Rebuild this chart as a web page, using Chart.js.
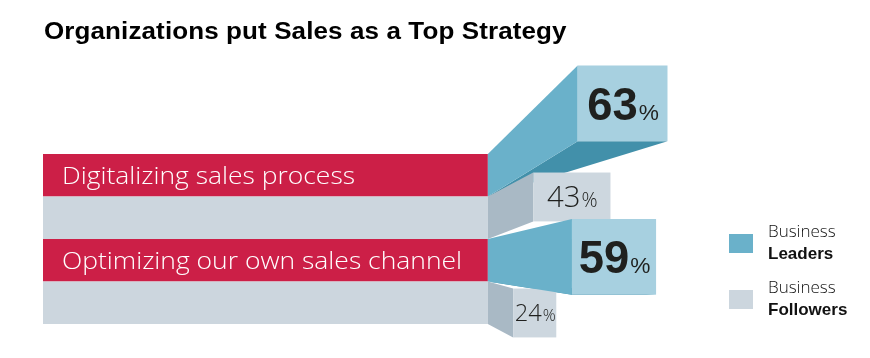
<!DOCTYPE html>
<html>
<head>
<meta charset="utf-8">
<script src="https://cdn.jsdelivr.net/npm/chart.js@4.4.1/dist/chart.umd.min.js"></script>
<style>
  html, body { margin: 0; padding: 0; background: #fff; }
  #wrap { position: relative; width: 870px; height: 358px; overflow: hidden; }
  #title {
    position: absolute; left: 44px; top: 20px; margin: 0;
    font: bold 23px/23px "Liberation Sans", Arial, sans-serif; color: #000;
    letter-spacing: 0.1px; transform: scaleX(1.13); transform-origin: 0 0; white-space: nowrap;
  }
  #legend { position: absolute; left: 729px; top: 220px; }
  .item { position: relative; height: 56px; }
  .swatch { position: absolute; left: 0; top: 14px; width: 24px; height: 19px; }
  .txt { position: absolute; left: 39px; top: 0; font-size: 17px; line-height: 22px; color: #111; white-space: nowrap; }
  .txt .lt { font-family: "Open Sans", "Liberation Sans", sans-serif; font-weight: 300; }
  .txt b { font-family: "Liberation Sans", Arial, sans-serif; font-weight: bold; }
  canvas { position: absolute; left: 0; top: 0; }
</style>
</head>
<body>
<div id="wrap">
  <canvas id="chart" width="870" height="358"></canvas>
  <h1 id="title">Organizations put Sales as a Top Strategy</h1>
  <div id="legend"></div>
</div>
<script>
// data
const categories = ['Digitalizing sales process', 'Optimizing our own sales channel'];
const leaders = [63, 59];
const followers = [43, 24];
const seriesFirst = ['Business', 'Business'];
const seriesSecond = ['Leaders', 'Followers'];

const LIGHT = '"Open Sans", "Liberation Sans", sans-serif';
const BOLD = '"Liberation Sans", Arial, sans-serif';

// how each series is extruded out of its band (bars seen in perspective)
const SHAPE = [
  { vanish: 0.65, lift: 1.806, grow: 1.78, front: 0.5,
    band: '#cc1f47', face: '#a7d0e0', side: '#6ab1ca', under: '#4290aa', legend: '#6ab1ca',
    numFont: 'bold', numFamily: BOLD, pct: 0.5, pctFont: 'normal', pctFamily: BOLD },
  { vanish: 0.71, lift: 1.365, grow: 1.15, front: 0.37,
    band: '#ccd6de', face: '#cdd7df', side: '#a9b9c5', under: null, legend: '#ccd6de',
    numFont: '300', numFamily: LIGHT, pct: 0.68, pctFont: '300', pctFamily: LIGHT }
];

function box(chart, di, i) {
  const bar = chart.getDatasetMeta(di).data[i];
  const { x, y, base, height } = bar.getProps(['x', 'y', 'base', 'height'], true);
  const s = SHAPE[di];
  const a = chart.chartArea;
  const vy = a.top + s.vanish * (a.bottom - a.top);
  const cy = vy + s.lift * (y - vy);
  const h = height * s.grow;
  return {
    base, top: y - height / 2, bottom: y + height / 2,
    fl: base + (x - base) * s.front, fr: x, ft: cy - h / 2, fb: cy + h / 2
  };
}

function poly(ctx, pts, color) {
  ctx.beginPath();
  ctx.moveTo(pts[0][0], pts[0][1]);
  for (let k = 1; k < pts.length; k++) ctx.lineTo(pts[k][0], pts[k][1]);
  ctx.closePath();
  ctx.fillStyle = color;
  ctx.fill();
}

const perspective = {
  id: 'perspective',
  beforeDatasetsDraw(chart) {
    const ctx = chart.ctx;
    const left = chart.chartArea.left;
    ctx.save();
    chart.data.datasets.forEach((ds, di) => {
      chart.getDatasetMeta(di).data.forEach((bar, i) => {
        const { y, base, height } = bar.getProps(['y', 'base', 'height'], true);
        ctx.fillStyle = SHAPE[di].band;
        ctx.fillRect(left, y - height / 2, base - left, height);
        if (di === 0) {
          ctx.save();
          ctx.fillStyle = '#fff';
          ctx.font = '300 24.5px ' + LIGHT;
          ctx.textBaseline = 'alphabetic';
          ctx.translate(left + 19, y + 8.6);
          ctx.scale(1.08, 1);
          ctx.fillText(chart.data.labels[i], 0, 0);
          ctx.restore();
        }
      });
    });
    ctx.restore();
  },
  afterDatasetsDraw(chart) {
    const ctx = chart.ctx;
    const n = chart.data.labels.length;
    ctx.save();
    // underside of the front series first, it sits behind everything
    chart.data.datasets.forEach((ds, di) => {
      if (!SHAPE[di].under) return;
      for (let i = 0; i < n; i++) {
        const b = box(chart, di, i);
        poly(ctx, [[b.fl, b.fb], [b.fr, b.fb], [b.base, b.bottom]], SHAPE[di].under);
      }
    });
    // back series, then front series
    for (let di = chart.data.datasets.length - 1; di >= 0; di--) {
      for (let i = 0; i < n; i++) {
        const b = box(chart, di, i);
        poly(ctx, [[b.base, b.top], [b.fl, b.ft], [b.fl, b.fb], [b.base, b.bottom]], SHAPE[di].side);
        ctx.fillStyle = SHAPE[di].face;
        ctx.fillRect(b.fl, b.ft, b.fr - b.fl, b.fb - b.ft);
      }
    }
    // value labels
    chart.data.datasets.forEach((ds, di) => {
      const s = SHAPE[di];
      for (let i = 0; i < n; i++) {
        const b = box(chart, di, i);
        const size = Math.min((b.fb - b.ft) * 0.6, (b.fr - b.fl) * 0.55);
        const num = String(ds.data[i]);
        ctx.font = `${s.numFont} ${size}px ${s.numFamily}`;
        const nw = ctx.measureText(num).width;
        const psize = size * s.pct;
        ctx.font = `${s.pctFont} ${psize}px ${s.pctFamily}`;
        const pw = ctx.measureText('%').width;
        const x0 = (b.fl + b.fr) / 2 - (nw + pw) / 2;
        const yb = (b.ft + b.fb) / 2 + size * 0.358;
        ctx.fillStyle = '#1f201e';
        ctx.textBaseline = 'alphabetic';
        ctx.font = `${s.numFont} ${size}px ${s.numFamily}`;
        ctx.fillText(num, x0, yb);
        ctx.font = `${s.pctFont} ${psize}px ${s.pctFamily}`;
        ctx.fillText('%', x0 + nw + 1, yb);
      }
    });
    ctx.restore();
  }
};

new Chart(document.getElementById('chart').getContext('2d'), {
  type: 'bar',
  data: {
    labels: categories,
    datasets: [
      { label: seriesFirst[0] + ' ' + seriesSecond[0], data: leaders, backgroundColor: 'rgba(0,0,0,0)', borderWidth: 0 },
      { label: seriesFirst[1] + ' ' + seriesSecond[1], data: followers, backgroundColor: 'rgba(0,0,0,0)', borderWidth: 0 }
    ]
  },
  options: {
    responsive: false,
    animation: false,
    indexAxis: 'y',
    layout: { padding: { left: 43, right: 97, top: 154, bottom: 34 } },
    datasets: { bar: { barPercentage: 1, categoryPercentage: 1 } },
    scales: {
      x: { type: 'linear', min: -156, max: 100, display: false },
      y: { type: 'category', display: false }
    },
    plugins: {
      legend: { display: false },
      tooltip: { enabled: false },
      title: { display: false }
    }
  },
  plugins: [perspective]
});

const legend = document.getElementById('legend');
seriesSecond.forEach((name, i) => {
  const item = document.createElement('div');
  item.className = 'item';
  item.innerHTML = `<div class="swatch" style="background:${SHAPE[i].legend}"></div>` +
    `<div class="txt"><span class="lt">${seriesFirst[i]}</span><br><b>${name}</b></div>`;
  legend.appendChild(item);
});
</script>
</body>
</html>
